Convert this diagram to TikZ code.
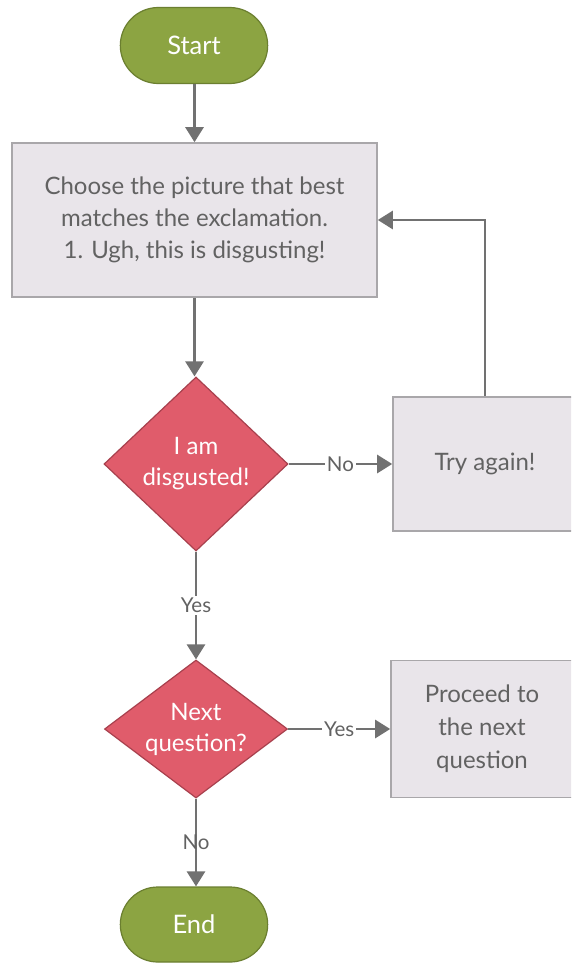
\documentclass[tikz,border=0pt]{standalone}
\usepackage{fontspec}
\setmainfont{Lato}
\usetikzlibrary{shapes.misc,shapes.geometric,arrows.meta}
\definecolor{termfill}{HTML}{8CA442}
\definecolor{termline}{HTML}{6B7F30}
\definecolor{decfill}{HTML}{E05C6B}
\definecolor{decline}{HTML}{A8404D}
\definecolor{procfill}{HTML}{E9E5EA}
\definecolor{procline}{HTML}{A9A7AA}
\definecolor{proctext}{HTML}{626262}
\definecolor{flow}{HTML}{717171}
\tikzset{
  every node/.style={font=\fontsize{24}{32}\selectfont, align=center},
  terminal/.style={rounded rectangle, fill=termfill, draw=termline, line width=1.2pt,
    text=white, minimum width=154pt, minimum height=76pt,
    font=\fontsize{25.5}{32}\selectfont},
  decision/.style={diamond, fill=decfill, draw=decline, line width=1.2pt,
    text=white, inner sep=-24pt, font=\fontsize{24}{31}\selectfont},
  process/.style={rectangle, fill=procfill, draw=procline, line width=1.6pt,
    text=proctext},
  flowline/.style={draw=flow, line width=2.6pt},
  flowarrow/.style={flowline, -{Triangle[width=18pt,length=15pt]}},
  flowlabel/.style={font=\fontsize{20.5}{24}\selectfont, text=proctext, fill=white,
    inner sep=2pt}
}
\begin{document}
\begin{tikzpicture}[x=1pt,y=-1pt]
\useasboundingbox (0,0) rectangle (571,964);
\fill[white] (0,0) rectangle (571,964);
\clip (0,0) rectangle (571,964);

% shapes
\node[terminal] (start) at (194,45.5) {Start};
\node[process, minimum width=365pt, minimum height=154pt] (choose) at (194.5,220)
  {Choose the picture that best\\matches the exclamation.\\1. Ugh, this is disgusting!};
\node[decision, minimum width=184pt, minimum height=174pt] (disg) at (196,464)
  {I am\\disgusted!};
\node[process, minimum width=184pt, minimum height=134pt] (again) at (485,464)
  {Try again!};
\node[decision, minimum width=183pt, minimum height=138pt] (next) at (196,729)
  {Next\\question?};
\node[process, minimum width=182pt, minimum height=137pt,
      font=\fontsize{24}{33}\selectfont] (proceed) at (482,729)
  {Proceed to\\the next\\question};
\node[terminal, minimum height=75pt] (end) at (194,924.5) {End};

% connectors
\draw[flowarrow] (start.south -| choose.north) -- (choose.north);
\draw[flowarrow] (choose.south) -- (choose.south |- disg.north);
\draw[flowarrow] (disg.east) -- node[flowlabel] {No} (again.west);
\draw[flowarrow] (again.north) |- (choose.east);
\draw[flowarrow] (disg.south) -- node[flowlabel] {Yes} (next.north);
\draw[flowarrow] (next.east) -- node[flowlabel] {Yes} (next.east -| proceed.west);
\draw[flowarrow] (next.south) -- node[flowlabel, fill=none] {No} (next.south |- end.north);
\end{tikzpicture}
\end{document}
